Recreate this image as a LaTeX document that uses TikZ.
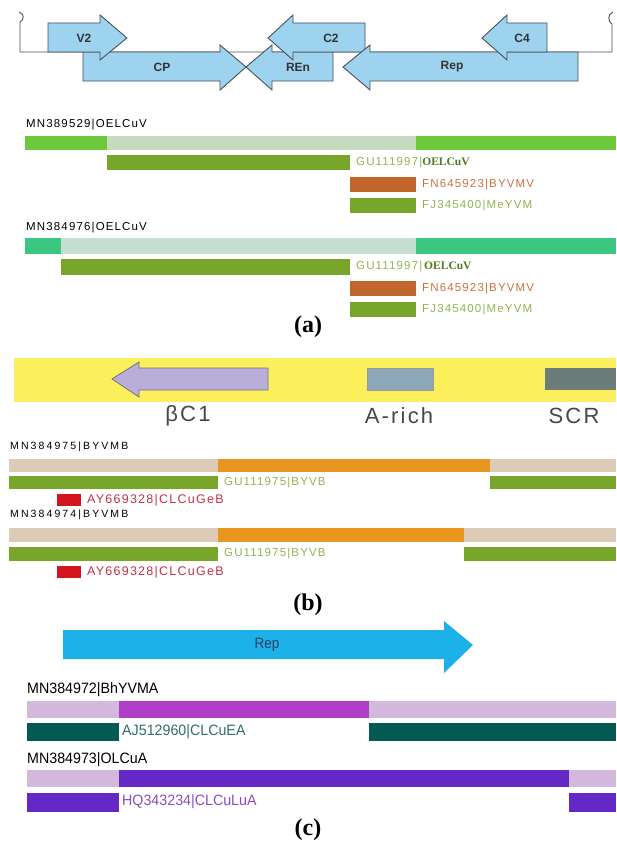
\documentclass[tikz,border=0pt]{standalone}
\usepackage{fontspec}
\setmainfont{Liberation Sans}
\newfontfamily\tnr{Liberation Serif}
\newfontfamily\spaced[LetterSpace=10]{Liberation Sans}
\newfontfamily\wide[LetterSpace=20]{Liberation Sans}

\definecolor{genefill}{HTML}{9DD3EE}
\definecolor{geneline}{HTML}{4A4F55}
\definecolor{limeA}{HTML}{6CC93C}
\definecolor{paleA}{HTML}{C7DBC0}
\definecolor{olive}{HTML}{78A62A}
\definecolor{rust}{HTML}{C0652B}
\definecolor{mintA}{HTML}{3DC67F}
\definecolor{paleB}{HTML}{C4DED2}
\definecolor{oliveTxt}{HTML}{93B24E}
\definecolor{rustTxt}{HTML}{CC7040}
\definecolor{deepGreen}{HTML}{4E7A1E}
\definecolor{band}{HTML}{FBF05C}
\definecolor{lav}{HTML}{B9AEDA}
\definecolor{arich}{HTML}{8EA7B9}
\definecolor{scr}{HTML}{6C7C79}
\definecolor{beige}{HTML}{DCCBB6}
\definecolor{amber}{HTML}{E8961F}
\definecolor{crimson}{HTML}{D2161C}
\definecolor{crimTxt}{HTML}{C2304C}
\definecolor{sky}{HTML}{1DB1EA}
\definecolor{lilac}{HTML}{D3B9DC}
\definecolor{magen}{HTML}{B03EC6}
\definecolor{tealbar}{HTML}{035A53}
\definecolor{tealTxt}{HTML}{2E6E6C}
\definecolor{violet}{HTML}{6428C6}
\definecolor{vioTxt}{HTML}{8A4CC2}
\definecolor{repTxt}{HTML}{2B3F5C}

\begin{document}
\begin{tikzpicture}[
  x=1pt, y=-1pt,
  gene/.style={draw=geneline, fill=genefill, line width=0.9pt, line join=miter},
  genetxt/.style={font=\bfseries\fontsize{12}{14}\selectfont, text=black!80, inner sep=0},
  acc/.style={anchor=west, inner sep=0, font=\spaced\fontsize{11.5}{13}\selectfont},
  accb/.style={anchor=west, inner sep=0, font=\wide\fontsize{10.5}{12}\selectfont},
  accc/.style={anchor=west, inner sep=0, font=\fontsize{15}{17}\selectfont},
  region/.style={inner sep=0, font=\spaced\fontsize{22}{25}\selectfont, text=black!72},
  panel/.style={inner sep=0, font=\tnr\bfseries\fontsize{24}{27}\selectfont}
]
\useasboundingbox (0,0) rectangle (616,843);

% genome map
\draw[geneline, line width=0.9pt] (19,12) .. controls (25,14) and (24,20) .. (20,22) -- (20,52) -- (612,52) -- (612,24) .. controls (608,22) and (607,14) .. (613,12);
\draw[gene] (83,52) -- (220,52) -- (220,45) -- (246,67) -- (220,90) -- (220,81) -- (83,81) -- cycle;
\draw[gene] (333,52) -- (272,52) -- (272,45) -- (246,67) -- (272,90) -- (272,81) -- (333,81) -- cycle;
\draw[gene] (365,23) -- (293,23) -- (293,15) -- (268,38) -- (293,60) -- (293,52) -- (365,52) -- cycle;
\draw[gene] (578,52) -- (370,52) -- (370,45) -- (343,67) -- (370,90) -- (370,81) -- (578,81) -- cycle;
\draw[gene] (48,23) -- (100,23) -- (100,15) -- (127,38) -- (100,60) -- (100,52) -- (48,52) -- cycle;
\draw[gene] (547,23) -- (507,23) -- (507,15) -- (482,38) -- (507,60) -- (507,52) -- (547,52) -- cycle;
\node[genetxt] (v2) at (84,38) {V2};
\node[genetxt] (cp) at (162,67) {CP};
\node[genetxt] (ren) at (298,67) {REn};
\node[genetxt] (c2) at (331,38) {C2};
\node[genetxt] (rep) at (452,67) {Rep};
\node[genetxt] (c4) at (522,38) {C4};

% (a) first isolate
\node[acc] (mnA) at (26,125) {MN389529|OELCuV};
\fill[limeA] (25,136) rectangle (107,150);
\fill[paleA] (107,136) rectangle (416,150);
\fill[limeA] (416,136) rectangle (616,150);
\fill[olive] (107,155) rectangle (350,170);
\node[acc, text=oliveTxt] (guA) at (356,163) {GU111997|{\tnr\bfseries\color{deepGreen}OELCuV}};
\fill[rust] (350,177) rectangle (416,192);
\node[acc, text=rustTxt] (fnA) at (422,185) {FN645923|BYVMV};
\fill[olive] (350,198) rectangle (416,213);
\node[acc, text=oliveTxt] (fjA) at (422,206) {FJ345400|MeYVM};

% (a) second isolate
\node[acc] (mnB) at (26,228) {MN384976|OELCuV};
\fill[mintA] (25,238) rectangle (61,254);
\fill[paleB] (61,238) rectangle (416,254);
\fill[mintA] (416,238) rectangle (616,254);
\fill[olive] (61,259) rectangle (350,275);
\node[acc, text=oliveTxt] (guB) at (356,267) {GU111997|\,{\tnr\bfseries\color{deepGreen}OELCuV}};
\fill[rust] (350,281) rectangle (416,296);
\node[acc, text=rustTxt] (fnB) at (422,289) {FN645923|BYVMV};
\fill[olive] (350,302) rectangle (416,317);
\node[acc, text=oliveTxt] (fjB) at (422,310) {FJ345400|MeYVM};
\node[panel] (pa) at (308,327) {(a)};

% (b) betasatellite
\fill[band] (14,358) rectangle (616,402);
\draw[draw=black!55, fill=lav, line width=0.8pt] (268,368) -- (139,368) -- (139,362) -- (112,379) -- (139,397) -- (139,390) -- (268,390) -- cycle;
\draw[draw=black!40, fill=arich, line width=0.6pt] (367,368) rectangle (433,390);
\fill[scr] (545,368) rectangle (616,390);
\node[region] (bc1) at (188,416) {βC1};
\node[region] (arich) at (399,416) {A-rich};
\node[region] (scrl) at (574,416) {SCR};

\node[accb] (mnC) at (10,447) {MN384975|BYVMB};
\fill[beige] (9,459) rectangle (218,472);
\fill[amber] (218,459) rectangle (490,472);
\fill[beige] (490,459) rectangle (616,472);
\fill[olive] (9,476) rectangle (218,489);
\fill[olive] (490,476) rectangle (616,489);
\node[acc, text=oliveTxt] (guC) at (224,483) {GU111975|BYVB};
\fill[crimson] (57,494) rectangle (81,506);
\node[acc, text=crimTxt, font=\spaced\fontsize{12.5}{14}\selectfont] (ayC) at (87,500) {AY669328|CLCuGeB};

\node[accb] (mnD) at (10,515) {MN384974|BYVMB};
\fill[beige] (9,528) rectangle (218,542);
\fill[amber] (218,528) rectangle (464,542);
\fill[beige] (464,528) rectangle (616,542);
\fill[olive] (9,547) rectangle (218,561);
\fill[olive] (464,547) rectangle (616,561);
\node[acc, text=oliveTxt] (guD) at (224,554) {GU111975|BYVB};
\fill[crimson] (57,566) rectangle (81,578);
\node[acc, text=crimTxt, font=\spaced\fontsize{12.5}{14}\selectfont] (ayD) at (87,572) {AY669328|CLCuGeB};
\node[panel] (pb) at (308,605) {(b)};

% (c) alphasatellites
\fill[sky] (63,630) -- (444,630) -- (444,621) -- (473,645) -- (444,673) -- (444,659) -- (63,659) -- cycle;
\node[inner sep=0, font=\fontsize{15}{17}\selectfont, text=repTxt] (repc) at (267,645) {\scalebox{0.9}[1]{Rep}};

\node[accc] (mnE) at (27,690) {\scalebox{0.95}[1]{MN384972|BhYVMA}};
\fill[lilac] (27,701) rectangle (119,718);
\fill[magen] (119,701) rectangle (369,718);
\fill[lilac] (369,701) rectangle (616,718);
\fill[tealbar] (27,723) rectangle (119,741);
\fill[tealbar] (369,723) rectangle (616,741);
\node[accc, text=tealTxt] (ajE) at (122,732) {\scalebox{0.95}[1]{AJ512960|CLCuEA}};

\node[accc] (mnF) at (27,760) {\scalebox{0.95}[1]{MN384973|OLCuA}};
\fill[lilac] (27,770) rectangle (119,787);
\fill[violet] (119,770) rectangle (569,787);
\fill[lilac] (569,770) rectangle (616,787);
\fill[violet] (27,793) rectangle (119,812);
\fill[violet] (569,793) rectangle (616,812);
\node[accc, text=vioTxt] (hqF) at (122,802) {\scalebox{0.95}[1]{HQ343234|CLCuLuA}};
\node[panel] (pc) at (308,830) {(c)};
\end{tikzpicture}
\end{document}
